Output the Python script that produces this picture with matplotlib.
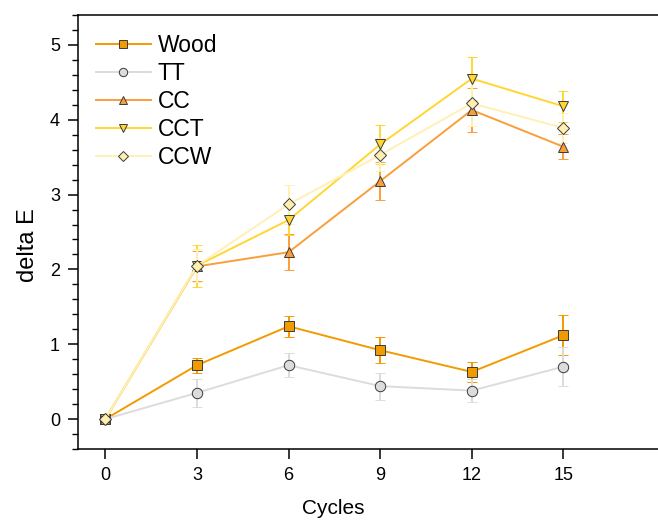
import matplotlib
matplotlib.use("Agg")
import matplotlib.pyplot as plt
from matplotlib.lines import Line2D
from matplotlib.ticker import MultipleLocator

plt.rcParams['font.family'] = ['Liberation Sans', 'DejaVu Sans']

cycles = [0, 3, 6, 9, 12, 15]

wood = [0.0, 0.72, 1.24, 0.92, 0.63, 1.12]
wood_err = [0.0, 0.10, 0.14, 0.17, 0.13, 0.27]
tt = [0.0, 0.35, 0.72, 0.44, 0.38, 0.70]
tt_err = [0.0, 0.19, 0.16, 0.18, 0.15, 0.26]
cc = [0.0, 2.04, 2.23, 3.18, 4.13, 3.64]
cc_err = [0.0, 0.20, 0.24, 0.25, 0.29, 0.17]
cct = [0.0, 2.05, 2.66, 3.67, 4.55, 4.18]
cct_err = [0.0, 0.28, 0.20, 0.26, 0.29, 0.21]
ccw = [0.0, 2.05, 2.87, 3.53, 4.22, 3.89]
ccw_err = [0.0, 0.22, 0.26, 0.22, 0.30, 0.20]

series = [
    ("Wood", wood, wood_err, "#F29B00", "#F29B00", "s"),
    ("TT", tt, tt_err, "#DCDCDC", "#DCDCDC", "o"),
    ("CC", cc, cc_err, "#FA9E3C", "#FA9E3C", "^"),
    ("CCT", cct, cct_err, "#FFD632", "#FFD632", "v"),
    ("CCW", ccw, ccw_err, "#FFF0B4", "#FFF0B0", "D"),
]

fig = plt.figure(figsize=(6.58, 5.25), dpi=100)
ax = fig.add_axes([0.1185, 0.1448, 0.8815, 0.8266])

handles = []
for name, y, err, lc, fc, mk in series:
    ms = 6.5 if mk == "D" else 7.5
    ax.errorbar(cycles, y, yerr=err, color=lc, lw=1.4, elinewidth=1.4,
                capsize=3.7, capthick=1.4, marker=mk, markersize=ms,
                markerfacecolor=fc, markeredgecolor="#3a3a3a",
                markeredgewidth=0.7)
    handles.append(Line2D([], [], color=lc, lw=1.4, marker=mk,
                          markersize=ms * 0.8, markerfacecolor=fc,
                          markeredgecolor="#3a3a3a", markeredgewidth=0.7,
                          label=name))

ax.set_xlim(-0.9, 18.1)
ax.set_ylim(-0.4, 5.4)
ax.set_xticks(cycles)
ax.yaxis.set_major_locator(MultipleLocator(1))
ax.yaxis.set_minor_locator(MultipleLocator(0.2))
ax.tick_params(axis='both', which='major', direction='out', length=7,
               width=1.1, labelsize=13, pad=6)
ax.tick_params(axis='y', which='minor', direction='out', length=4, width=1.0)
for side in ['left', 'bottom', 'top']:
    ax.spines[side].set_linewidth(1.1)
ax.spines['right'].set_visible(False)

ax.set_xlabel("Cycles", fontsize=15)
ax.xaxis.set_label_coords(0.44, -0.115)
ax.set_ylabel("delta E", fontsize=17)
ax.yaxis.set_label_coords(-0.068, 0.47)

ax.legend(handles=handles, loc='upper left', frameon=False, fontsize=16.5,
          handlelength=2.4, handletextpad=0.3, labelspacing=0.22,
          borderaxespad=0.0, bbox_to_anchor=(0.015, 0.978))

fig.savefig("out.png", dpi=100)
